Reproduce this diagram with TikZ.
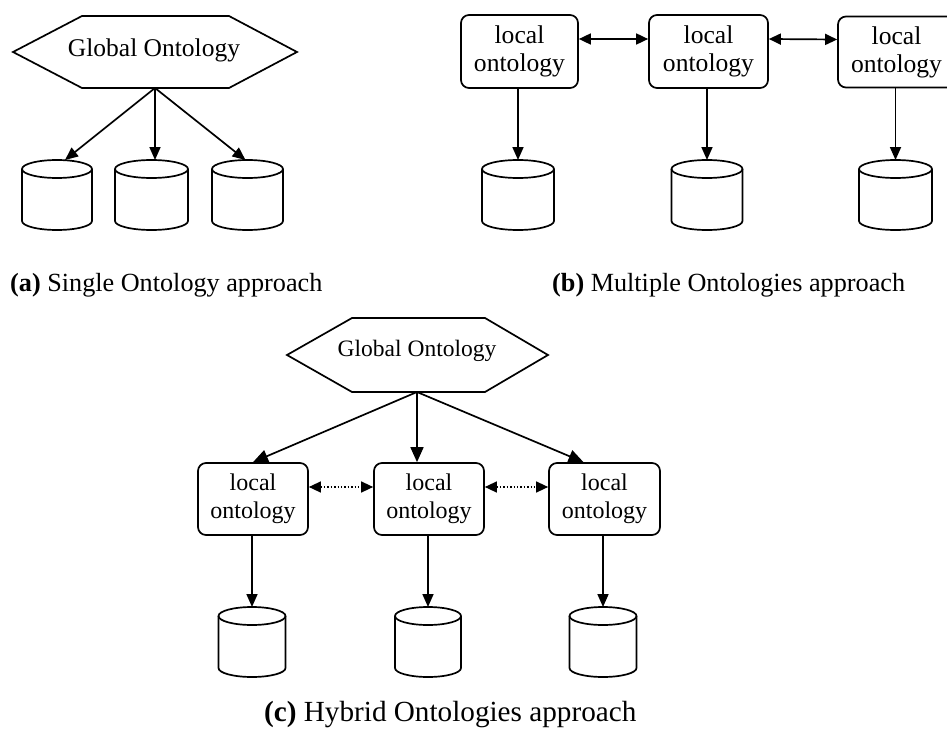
\documentclass[tikz,border=0pt]{standalone}
\usepackage{fontspec}
\setmainfont{Liberation Serif}
\usetikzlibrary{arrows.meta,calc}

\tikzset{
  ln/.style={line width=1.7pt},
  hexline/.style={ln, line join=miter},
  hextext/.style={inner sep=0pt},
  lbox/.style={draw, ln, rounded corners=8pt, align=center, inner sep=0pt},
  tip/.style={-{Triangle[length=13pt,width=11pt]}},
  bigtip/.style={-{Triangle[length=15pt,width=13pt]}},
  arr/.style={ln, tip},
  bigarr/.style={ln, bigtip},
  darr/.style={ln, {Triangle[length=12pt,width=11pt]}-{Triangle[length=12pt,width=11pt]}},
  dotarr/.style={line width=1.4pt, dotted, {Triangle[length=12pt,width=11pt]}-{Triangle[length=12pt,width=11pt]}},
  caption/.style={anchor=base west, inner sep=0pt},
  dbw/.store in=\dbw, dbw=70,
  dbh/.store in=\dbh, dbh=70,
  % database cylinder, origin at the top of the lid
  pics/db/.style={code={
    \coordinate (-top) at (0,0);
    \draw[ln] (0,9) ellipse [x radius={(\dbw/2)*1pt}, y radius=9pt];
    \draw[ln] ({-\dbw/2},9) -- ({-\dbw/2},{\dbh-9})
      arc[start angle=180, end angle=360, x radius={(\dbw/2)*1pt}, y radius=9pt]
      -- ({\dbw/2},9);
  }},
}

\begin{document}
\begin{tikzpicture}[x=1pt, y=-1pt]
\useasboundingbox (0,0) rectangle (947,741);
\fill[white] (0,0) rectangle (947,741);
\clip (0,0) rectangle (947,741);

% ---------- (a) single ontology ----------
\draw[hexline] (13,52) -- (82,16) -- (229,16) -- (297,52) -- (229,88) -- (82,88) -- cycle;
\node[hextext, font=\fontsize{25.5}{28}\selectfont] (ga) at (154,50) {Global Ontology};
\coordinate (gab) at (155,88);

\pic[dbw=70] (a1) at (57,160) {db};
\pic[dbw=73] (a2) at (151.5,160) {db};
\pic[dbw=71] (a3) at (247.5,160) {db};

\draw[arr] (gab) -- ($(a1-top)+(8,0)$);
\draw[arr] (gab) -- (gab |- a2-top);
\draw[arr] (gab) -- ($(a3-top)+(-2,0)$);

\node[caption, font=\fontsize{26.2}{30}\selectfont] (capa) at (10,291) {\textbf{(a)} Single Ontology approach};

% ---------- (b) multiple ontologies ----------
\begin{scope}[every node/.append style={font=\fontsize{25.6}{28}\selectfont}]
\node[lbox, minimum width=117pt, minimum height=73pt] (b1) at (519.5,51.5) {local\\ontology};
\node[lbox, minimum width=119pt, minimum height=73pt] (b2) at (708.5,51.5) {local\\ontology};
\node[lbox, minimum width=117pt, minimum height=71pt] (b3) at (896.5,52) {local\\ontology};
\end{scope}

\draw[darr] ([yshift=12.5pt]b1.east) -- ([yshift=12.5pt]b2.west);
\draw[darr] ([yshift=12.5pt]b2.east) -- ([yshift=12.5pt]b3.west);

\pic[dbw=72] (bd1) at (518,160) {db};
\pic[dbw=71] (bd2) at (707,160) {db};
\pic[dbw=73] (bd3) at (895.5,160) {db};

\draw[arr] (bd1-top |- b1.south) -- (bd1-top);
\draw[arr] (bd2-top |- b2.south) -- (bd2-top);
\draw[arr] (bd3-top |- b3.south) -- (bd3-top);

\node[caption, font=\fontsize{26.2}{30}\selectfont] (capb) at (552,291) {\textbf{(b)} Multiple Ontologies approach};

% ---------- (c) hybrid ontologies ----------
\draw[hexline] (287,355) -- (352,318) -- (485,318) -- (548,355) -- (485,392) -- (352,392) -- cycle;
\node[hextext, font=\fontsize{23.5}{26}\selectfont] (gc) at (417,351) {Global Ontology};
\coordinate (gcb) at (417,392);

\begin{scope}[every node/.append style={font=\fontsize{24}{28}\selectfont}]
\node[lbox, minimum width=110pt, minimum height=72pt] (c1) at (253,499) {local\\ontology};
\node[lbox, minimum width=110pt, minimum height=72pt] (c2) at (429,499) {local\\ontology};
\node[lbox, minimum width=111pt, minimum height=72pt] (c3) at (604.5,499) {local\\ontology};
\end{scope}

\draw[bigarr] (gcb) -- (c1.north);
\draw[bigarr] (gcb) -- (gcb |- c2.north);
\draw[bigarr] (gcb) -- ($(c3.north)+(-21,0)$);

\draw[dotarr] ([yshift=12pt]c1.east) -- ([yshift=12pt]c2.west);
\draw[dotarr] ([yshift=12pt]c2.east) -- ([yshift=12pt]c3.west);

\pic[dbw=67] (cd1) at (252,607) {db};
\pic[dbw=66] (cd2) at (428,607) {db};
\pic[dbw=67] (cd3) at (603,607) {db};

\draw[arr] (cd1-top |- c1.south) -- (cd1-top);
\draw[arr] (cd2-top |- c2.south) -- (cd2-top);
\draw[arr] (cd3-top |- c3.south) -- (cd3-top);

\node[caption, font=\fontsize{29.2}{33}\selectfont] (capc) at (264,721) {\textbf{(c)} Hybrid Ontologies approach};
\end{tikzpicture}
\end{document}
